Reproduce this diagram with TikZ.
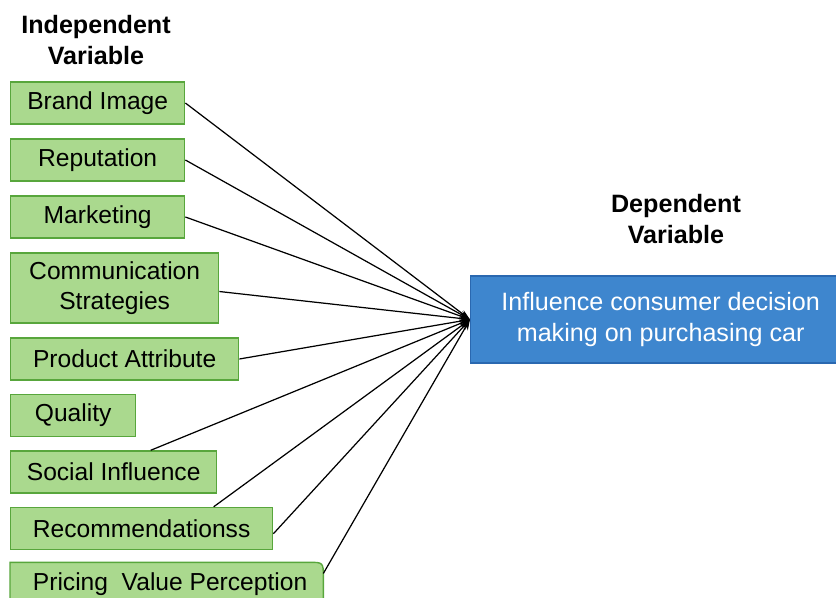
\documentclass[tikz,border=0pt]{standalone}
\usepackage{fontspec}
\setmainfont{Liberation Sans}
\usetikzlibrary{arrows.meta}

\definecolor{ivfill}{RGB}{170,217,142}
\definecolor{ivline}{RGB}{88,166,60}
\definecolor{dvfill}{RGB}{62,134,206}
\definecolor{dvline}{RGB}{42,104,176}

\tikzset{
  ivbox/.style={draw=ivline, fill=ivfill, line width=0.8pt, anchor=west,
    minimum height=0.84cm, inner sep=0pt, font=\fontsize{14}{17}\selectfont},
  dvbox/.style={draw=dvline, fill=dvfill, line width=0.8pt, anchor=west,
    minimum height=1.74cm, text=white, align=center,
    font=\fontsize{14.3}{17.2}\selectfont},
  heading/.style={align=center, font=\bfseries\fontsize{14.3}{17.6}\selectfont},
  link/.style={line width=0.7pt, -{Stealth[length=6pt,width=4pt]}}
}

\begin{document}
\begin{tikzpicture}[x=0.02cm,y=-0.02cm]
\useasboundingbox (0,0) rectangle (836,598);

% column headings
\node[heading] (ivhead) at (96,40) {Independent\\Variable};
\node[heading] (dvhead) at (676,219) {Dependent\\Variable};

% independent variables
\node[ivbox, minimum width=3.48cm] (brand) at (10,103) {Brand Image};
\node[ivbox, minimum width=3.48cm] (reput) at (10,160) {Reputation};
\node[ivbox, minimum width=3.48cm] (market) at (10,217) {Marketing};
\node[ivbox, minimum width=4.16cm, minimum height=1.4cm, align=center] (comm) at (10,288) {Communication\\Strategies};
\node[ivbox, minimum width=4.56cm] (product) at (10,359) {Product Attribute};
\node[ivbox, minimum width=2.5cm] (quality) at (10,415.5) {Quality};
\node[ivbox, minimum width=4.12cm] (social) at (10,472) {Social Influence};
\node[ivbox, minimum width=5.24cm] (recomm) at (10,528.5) {Recommendationss};
\node[ivbox, draw=none, fill=none, minimum width=6.24cm] (pricing) at (10,584) {};
\fill[ivfill, draw=ivline, line width=0.8pt] (pricing.south west) -- (pricing.north west)
  -- ([xshift=-0.3cm]pricing.north east) .. controls (pricing.north east) .. ([yshift=-0.3cm]pricing.north east)
  -- (pricing.south east) -- cycle;
\node[font=\fontsize{14}{17}\selectfont] at (pricing) {\ Pricing\ \ Value Perception};

% dependent variable
\node[dvbox, minimum width=7.6cm] (decision) at (470,319.5) {Influence consumer decision\\making on purchasing car};

% links
\draw[link] (brand.east) -- (decision.west);
\draw[link] (reput.east) -- (decision.west);
\draw[link] (market.east) -- (decision.west);
\draw[link] ([yshift=-2pt]comm.east) -- (decision.west);
\draw[link] (product.east) -- (decision.west);
\draw[link] ([xshift=0.74cm]social.north) -- (decision.west);
\draw[link] ([xshift=1.44cm]recomm.north) -- (decision.west);
\draw[link] ([yshift=-3pt]recomm.east) -- (decision.west);
\draw[link] ([yshift=6pt]pricing.east) -- (decision.west);
\end{tikzpicture}
\end{document}
